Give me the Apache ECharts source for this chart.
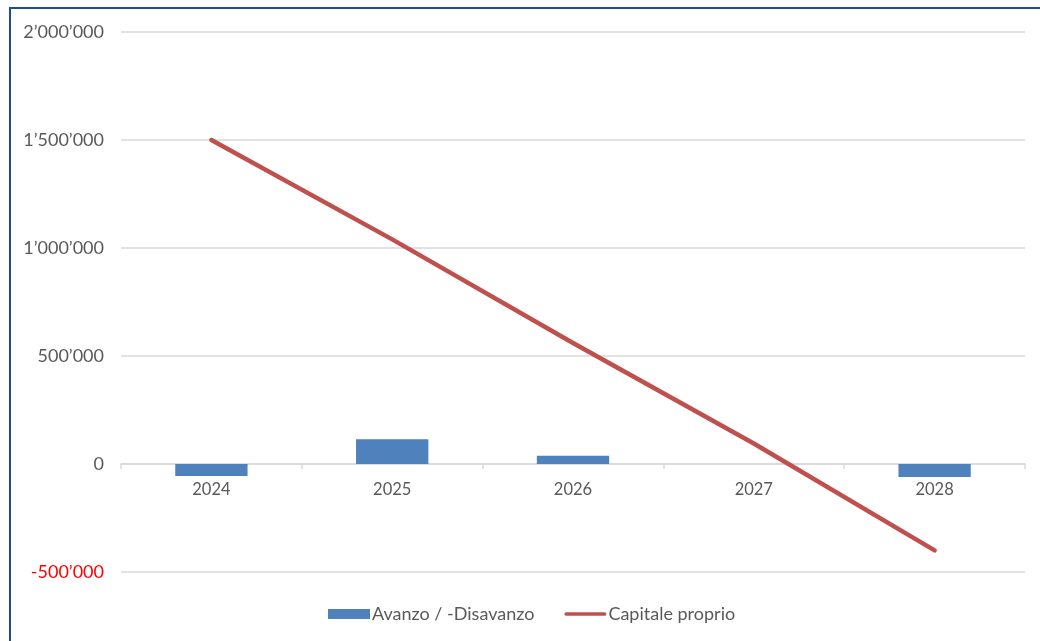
<!DOCTYPE html>
<html>
<head>
<meta charset="utf-8">
<script src="https://cdn.jsdelivr.net/npm/echarts@6/dist/echarts.min.js"></script>
<style>
  html, body { margin: 0; padding: 0; background: #ffffff; }
  #chart { width: 1040px; height: 641px; }
</style>
</head>
<body>
<div id="chart"></div>
<script>
// Years shown on the category axis
const years = ['2024', '2025', '2026', '2027', '2028'];
// Annual surplus / deficit
const avanzo = [-55000, 115000, 38000, 0, -60000];
// Equity at year end
const capitale = [1500000, 1040000, 560000, 95000, -400000];
// Value axis range and step
const yMin = -500000;
const yMax = 2000000;
const yStep = 500000;

const FONT = 'Lato, "Open Sans", sans-serif';

// Plot area in pixels
const GRID = { left: 121, right: 15, top: 32, bottom: 69 };
const plotHeight = 641 - GRID.top - GRID.bottom;
// The category axis sits on the zero line of the value axis
const zeroOffset = -plotHeight * (0 - yMin) / (yMax - yMin);

// Swiss-style thousands separator with a typographic apostrophe
function fmt(v) {
  const s = Math.abs(v).toString().replace(/\B(?=(\d{3})+(?!\d))/g, '\u2019');
  return (v < 0 ? '-' : '') + s;
}

const chart = echarts.init(document.getElementById('chart'), null, { renderer: 'canvas' });

chart.setOption({
  backgroundColor: '#ffffff',
  animation: false,
  grid: Object.assign({ containLabel: false }, GRID),
  legend: {
    top: 600,
    left: 323,
    itemWidth: 42,
    itemHeight: 10,
    itemGap: 30,
    symbolKeepAspect: true,
    textStyle: { fontFamily: FONT, fontSize: 18, color: '#595959', padding: [0, 0, 0, -3] },
    data: [
      { name: 'Avanzo / -Disavanzo', icon: 'rect' },
      { name: 'Capitale proprio', icon: 'path://M2,0 L43,0 A2,2 0 0 1 43,4 L2,4 A2,2 0 0 1 2,0 Z' }
    ]
  },
  xAxis: {
    type: 'category',
    data: years,
    offset: zeroOffset,
    axisLine: { onZero: false, lineStyle: { color: '#d9d9d9', width: 1.5 } },
    axisTick: { show: true, length: 5, lineStyle: { color: '#d9d9d9', width: 1.5 } },
    axisLabel: { fontFamily: FONT, fontSize: 16.5, color: '#595959', margin: 17 },
    splitLine: { show: false }
  },
  yAxis: {
    type: 'value',
    min: yMin,
    max: yMax,
    interval: yStep,
    axisLine: { show: false },
    axisTick: { show: false },
    splitLine: { lineStyle: { color: '#d9d9d9', width: 1.5 } },
    axisLabel: {
      margin: 17,
      fontFamily: FONT,
      fontSize: 18,
      color: '#595959',
      formatter: function (v) {
        return v < 0 ? '{neg|' + fmt(v) + '}' : fmt(v);
      },
      rich: {
        neg: { color: '#ff0000', fontFamily: FONT, fontSize: 18 }
      }
    }
  },
  series: [
    {
      name: 'Avanzo / -Disavanzo',
      type: 'bar',
      data: avanzo,
      barWidth: '40%',
      itemStyle: { color: '#4f81bd' }
    },
    {
      name: 'Capitale proprio',
      type: 'line',
      data: capitale,
      symbol: 'none',
      showSymbol: false,
      lineStyle: { color: '#c0504d', width: 4.5, cap: 'round', join: 'round' },
      itemStyle: { color: '#c0504d' }
    }
  ],
  graphic: [
    {
      type: 'line',
      shape: { x1: 9, y1: 8, x2: 1040, y2: 8 },
      style: { stroke: '#1f4e8c', lineWidth: 2 }
    },
    {
      type: 'line',
      shape: { x1: 10, y1: 7, x2: 10, y2: 641 },
      style: { stroke: '#1f4e8c', lineWidth: 2 }
    }
  ]
});
</script>
</body>
</html>
